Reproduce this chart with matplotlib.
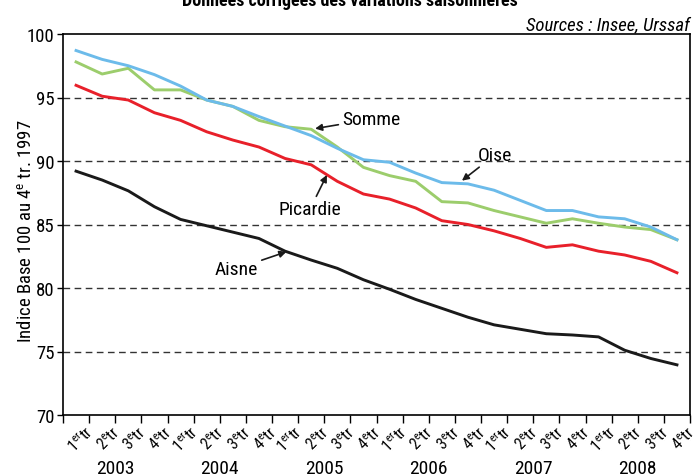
import numpy as np
import matplotlib
matplotlib.use('Agg')
import matplotlib.pyplot as plt
import matplotlib.transforms as mtransforms

plt.rcParams['font.family'] = ['Roboto Condensed', 'Liberation Sans', 'DejaVu Sans']
plt.rcParams['mathtext.fontset'] = 'custom'
plt.rcParams['mathtext.rm'] = 'Roboto Condensed'
plt.rcParams['mathtext.it'] = 'Roboto Condensed:italic'

# Data (index base 100 au 4e tr. 1997)
years = ['2003', '2004', '2005', '2006', '2007', '2008']
quarters = ['1$^{\\mathrm{er}}$tr', '2$^{\\mathrm{e}}$tr', '3$^{\\mathrm{e}}$tr', '4$^{\\mathrm{e}}$tr']

oise = [98.7, 98.0, 97.5, 96.8, 95.9, 94.8, 94.3, 93.5, 92.75, 92.0, 91.0, 90.1,
        89.9, 89.05, 88.3, 88.2, 87.7, 86.9, 86.1, 86.1, 85.6, 85.45, 84.8, 83.8]
somme = [97.8, 96.85, 97.3, 95.6, 95.6, 94.8, 94.3, 93.2, 92.7, 92.5, 91.1, 89.5,
         88.85, 88.4, 86.8, 86.7, 86.1, 85.6, 85.1, 85.45, 85.1, 84.8, 84.6, 83.8]
picardie = [95.96, 95.1, 94.8, 93.8, 93.2, 92.3, 91.65, 91.1, 90.2, 89.7, 88.4, 87.4,
            87.0, 86.3, 85.3, 85.0, 84.5, 83.9, 83.2, 83.4, 82.9, 82.6, 82.1, 81.2]
aisne = [89.2, 88.5, 87.65, 86.4, 85.4, 84.9, 84.4, 83.9, 82.9, 82.2, 81.55, 80.65,
         79.9, 79.1, 78.4, 77.7, 77.1, 76.75, 76.4, 76.3, 76.15, 75.1, 74.45, 73.95]

n = len(oise)
x = np.arange(n) + 0.5
W, H = 693, 477

fig = plt.figure(figsize=(W/100, H/100), dpi=100)
ax = fig.add_axes([63/W, 1 - 416/H, (690-63)/W, (416-35)/H])

ax.plot(x, oise, color='#6cbbea', lw=2.1, zorder=3)
ax.plot(x, somme, color='#9ccd6c', lw=2.1, zorder=2)
ax.plot(x, picardie, color='#e8202a', lw=2.1, zorder=3)
ax.plot(x, aisne, color='#1a1a1a', lw=2.1, zorder=3)

ax.set_xlim(0, n)
ax.set_ylim(70, 100)
ax.set_yticks(range(70, 101, 5))
ax.tick_params(axis='y', labelsize=13.5, length=4, width=1, pad=2)
for v in range(75, 100, 5):
    ax.axhline(v, color='#333333', lw=1.0, ls=(0, (4.8, 3.2)), zorder=1)

# x ticks between quarters, labels rotated
ax.set_xticks(np.arange(n + 1))
ax.set_xticklabels([])
ax.tick_params(axis='x', length=6, width=1)
trans = mtransforms.blended_transform_factory(ax.transData, fig.transFigure)
for i in range(n):
    ax.text(i + 0.86, 1 - 424/H, quarters[i % 4], rotation=45, ha='right', va='top',
            fontsize=11.5, rotation_mode='anchor', transform=trans, clip_on=False)
for k, yr in enumerate(years):
    ax.text(4 * k + 2, 1 - 474/H, yr, ha='center', va='baseline', fontsize=14,
            transform=trans, clip_on=False)

for s in ax.spines.values():
    s.set_linewidth(1.2)

fig.text(26/W, 1 - 231/H, 'Indice Base 100 au 4$^{\\mathrm{e}}$ tr. 1997', rotation=90,
         ha='center', va='center', fontsize=13.5)

# annotations
arrow = dict(arrowstyle='-|>', color='#1a1a1a', lw=1.2, mutation_scale=10,
             shrinkA=1, shrinkB=0)
ax.annotate('Somme', xy=(9.65, 92.55), xytext=(10.7, 93.3), fontsize=14,
            va='center', ha='left', arrowprops=arrow)
ax.annotate('Oise', xy=(15.27, 88.45), xytext=(16.55, 89.8), fontsize=14,
            va='bottom', ha='center', arrowprops=arrow)
ax.annotate('Picardie', xy=(10.1, 88.9), xytext=(9.45, 86.9), fontsize=14,
            va='top', ha='center', arrowprops=arrow)
ax.annotate('Aisne', xy=(8.55, 82.85), xytext=(7.45, 81.5), fontsize=14,
            va='center', ha='right', arrowprops=arrow)

fig.text(690/W, 1 - 30/H, 'Sources : Insee, Urssaf', ha='right',
         va='baseline', fontsize=13.5, style='italic')
fig.text(350/W, 1 - 6/H, 'Données corrigées des variations saisonnières',
         ha='center', va='baseline', fontsize=13, weight='bold')

fig.savefig('out.png', dpi=100)
